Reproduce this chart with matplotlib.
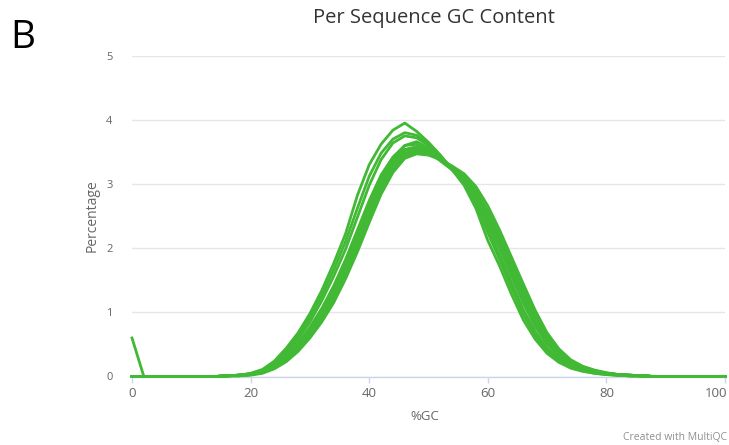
import matplotlib
matplotlib.use("Agg")
import matplotlib.pyplot as plt

plt.rcParams['font.family'] = ['Open Sans', 'DejaVu Sans']

gc = list(range(0, 101, 2))
Z8 = [0.0] * 8
Z7 = [0.0] * 7

s1 = Z8 + [0.01, 0.02, 0.05, 0.11, 0.24, 0.44, 0.68, 0.98, 1.34, 1.76,
           2.22, 2.82, 3.30, 3.62, 3.84, 3.95, 3.82, 3.65, 3.45, 3.22,
           2.98, 2.62, 2.12, 1.72, 1.28, 0.88, 0.58, 0.36, 0.22, 0.13,
           0.08, 0.05, 0.03, 0.02, 0.01, 0.01] + Z7
s2 = Z8 + [0.01, 0.02, 0.04, 0.10, 0.21, 0.40, 0.63, 0.92, 1.26, 1.66,
           2.10, 2.62, 3.12, 3.48, 3.70, 3.80, 3.76, 3.62, 3.44, 3.24,
           3.02, 2.70, 2.24, 1.82, 1.38, 0.96, 0.64, 0.40, 0.24, 0.14,
           0.09, 0.05, 0.03, 0.02, 0.01, 0.01] + Z7
s3 = Z8 + [0.01, 0.02, 0.04, 0.09, 0.19, 0.36, 0.58, 0.85, 1.18, 1.56,
           1.98, 2.48, 2.98, 3.38, 3.64, 3.75, 3.72, 3.60, 3.42, 3.25,
           3.05, 2.75, 2.32, 1.90, 1.46, 1.04, 0.70, 0.44, 0.27, 0.16,
           0.10, 0.06, 0.04, 0.02, 0.01, 0.01] + Z7
s4 = Z8 + [0.01, 0.02, 0.04, 0.08, 0.17, 0.31, 0.52, 0.77, 1.06, 1.41,
           1.82, 2.28, 2.74, 3.14, 3.42, 3.60, 3.62, 3.52, 3.38, 3.24,
           3.06, 2.78, 2.40, 2.00, 1.56, 1.14, 0.78, 0.50, 0.31, 0.18,
           0.11, 0.07, 0.04, 0.02, 0.01, 0.01] + Z7
s5 = Z8 + [0.01, 0.02, 0.03, 0.07, 0.15, 0.28, 0.47, 0.70, 0.97, 1.30,
           1.70, 2.14, 2.60, 3.02, 3.32, 3.52, 3.56, 3.50, 3.38, 3.24,
           3.08, 2.82, 2.48, 2.08, 1.66, 1.24, 0.86, 0.56, 0.35, 0.21,
           0.13, 0.08, 0.05, 0.03, 0.02, 0.01] + Z7
s6 = Z8 + [0.01, 0.01, 0.03, 0.06, 0.13, 0.25, 0.42, 0.64, 0.90, 1.21,
           1.60, 2.02, 2.48, 2.90, 3.22, 3.44, 3.50, 3.47, 3.38, 3.26,
           3.12, 2.90, 2.58, 2.20, 1.78, 1.36, 0.96, 0.63, 0.40, 0.24,
           0.15, 0.09, 0.05, 0.03, 0.02, 0.01] + Z7
s7 = Z8 + [0.01, 0.02, 0.04, 0.08, 0.16, 0.30, 0.50, 0.74, 1.02, 1.36,
           1.76, 2.20, 2.66, 3.08, 3.40, 3.60, 3.66, 3.56, 3.40, 3.22,
           3.04, 2.78, 2.42, 2.02, 1.60, 1.18, 0.82, 0.53, 0.33, 0.20,
           0.12, 0.07, 0.04, 0.03, 0.02, 0.01] + Z7
s8 = Z8 + [0.01, 0.01, 0.02, 0.05, 0.12, 0.23, 0.39, 0.60, 0.85, 1.15,
           1.52, 1.94, 2.40, 2.84, 3.18, 3.40, 3.47, 3.45, 3.38, 3.28,
           3.16, 2.96, 2.66, 2.28, 1.86, 1.44, 1.03, 0.68, 0.43, 0.26,
           0.16, 0.10, 0.06, 0.03, 0.02, 0.01] + Z7
s9 = [0.60] + [0.0] * 7 + [0.01, 0.02, 0.03, 0.07, 0.15, 0.29, 0.48, 0.72, 1.00, 1.34,
           1.74, 2.18, 2.63, 3.05, 3.36, 3.54, 3.58, 3.50, 3.36, 3.22,
           3.07, 2.80, 2.45, 2.05, 1.62, 1.20, 0.83, 0.54, 0.34, 0.20,
           0.12, 0.08, 0.05, 0.03, 0.02, 0.01] + Z7
s10 = Z8 + [0.01, 0.02, 0.03, 0.06, 0.14, 0.26, 0.44, 0.67, 0.94, 1.26,
            1.65, 2.08, 2.54, 2.96, 3.28, 3.48, 3.53, 3.49, 3.40, 3.26,
            3.10, 2.86, 2.52, 2.14, 1.72, 1.30, 0.91, 0.60, 0.37, 0.22,
            0.14, 0.09, 0.05, 0.03, 0.02, 0.01] + Z7

series = [s1, s2, s3, s4, s5, s6, s7, s8, s9, s10]

title = "Per Sequence GC Content"
xlabel = "%GC"
ylabel = "Percentage"
xticks = [0, 20, 40, 60, 80, 100]
yticks = [0, 1, 2, 3, 4, 5]

GREEN = '#41b934'

fig = plt.figure(figsize=(7.29, 4.45), dpi=100)
ax = fig.add_axes([132 / 729, 1 - 376.5 / 445, 593 / 729, (376.5 - 55.7) / 445])

for s in series:
    ax.plot(gc, s, color=GREEN, lw=2.0, solid_joinstyle='round', clip_on=False, zorder=3)

ax.set_xlim(0, 100)
ax.set_ylim(0, 5)
ax.set_xticks(xticks)
ax.set_yticks(yticks)
ax.grid(axis='y', color='#e6e6e6', lw=1.0)
ax.set_axisbelow(True)
for side in ['top', 'right', 'left']:
    ax.spines[side].set_visible(False)
ax.spines['bottom'].set_color('#ccd6eb')
ax.spines['bottom'].set_linewidth(1.0)
ax.tick_params(axis='x', colors='#ccd6eb', length=4.3, width=1, labelcolor='#666666',
               labelsize=9.5, pad=3.5)
ax.tick_params(axis='y', length=0, labelcolor='#666666', labelsize=8, pad=14)

# last x tick label is kept inside the chart, right-aligned like the original
xt_labels = ax.get_xticklabels()
xt_labels[-1].set_horizontalalignment('right')
import matplotlib.transforms as mtransforms
xt_labels[-1].set_transform(xt_labels[-1].get_transform() +
                            mtransforms.ScaledTranslation(0.02, 0, fig.dpi_scale_trans))

ax.set_xlabel(xlabel, color='#666666', fontsize=9.5)
ax.xaxis.set_label_coords((425 - 132) / 593, (376.5 - 417) / 320.8)
ax.set_ylabel(ylabel, color='#666666', fontsize=10)
ax.yaxis.set_label_coords((92 - 132) / 593, 0.5)
ax.yaxis.label.set_verticalalignment('center')
ax.xaxis.label.set_verticalalignment('center')

fig.text(434 / 729, 1 - 18 / 445, title, ha='center', va='center', fontsize=14.5, color='#333333')
fig.text(10 / 729, 1 - 38 / 445, "B", ha='left', va='center', fontsize=28, color='black')
fig.text(727 / 729, 1 - 437 / 445, "Created with MultiQC", ha='right', va='center',
         fontsize=7.5, color='#909090')

fig.savefig("out.png", dpi=100)
